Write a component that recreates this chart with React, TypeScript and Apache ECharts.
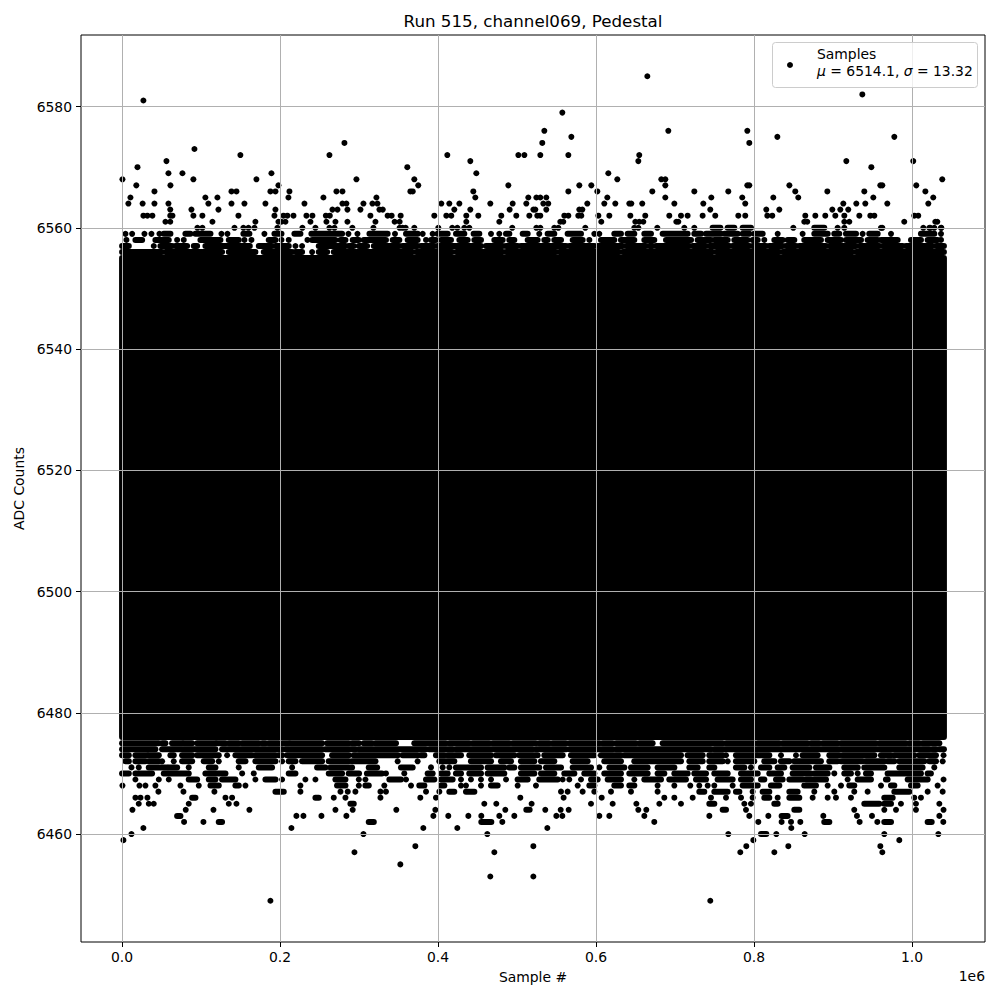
import { useEffect, useRef } from "react";
import * as echarts from "echarts";

// ---- axis / labels ----
const titleText = "Run 515, channel069, Pedestal";
const xTicks = [0, 200000, 400000, 600000, 800000, 1000000];
const yTicks = [6460, 6480, 6500, 6520, 6540, 6560, 6580];
const xRange = [-52000, 1092500];
const yRange = [6442.2, 6591.8];
const legendName = "Samples";
const muValue = "6514.1";
const sigmaValue = "13.32";

// ---- data (sample index in thousands, ADC counts) ----
const K = 1000;
const sampleSpanK = [0, 1040.5];
const coreAdc = [6476, 6555]; // rows that are completely filled

// isolated samples above the band: [sample (k), adc]
const upperOutliers = [
  [27, 6581], [0.5, 6568], [19.5, 6570], [18, 6567], [10.6, 6565], [8, 6564], [26, 6564], [27, 6562], [32, 6562], [38.4, 6562],
  [41, 6566], [41, 6564], [56.2, 6571], [58.7, 6569], [58.7, 6564], [61.2, 6567], [61, 6563], [63.8, 6562], [61, 6562], [54.9, 6561],
  [61, 6561], [76.4, 6569], [91.6, 6573], [90.3, 6568], [87.8, 6563], [90.3, 6562], [101.7, 6562], [95.4, 6560], [101.7, 6560], [105.5, 6565],
  [109.3, 6564], [114.4, 6561], [120.7, 6565], [122, 6563], [149.8, 6572], [138.5, 6566], [144.8, 6566], [138.5, 6564], [154.9, 6564], [147.3, 6562],
  [142.3, 6560], [153.6, 6560], [160, 6560], [167.6, 6560], [170.1, 6568], [168.8, 6561], [181.5, 6564], [189.1, 6569], [187.8, 6566], [194.2, 6566],
  [198, 6567], [194.2, 6563], [192.9, 6562], [198, 6561], [201.8, 6561], [206.8, 6561], [204.3, 6562], [209.3, 6562], [211.9, 6566], [210.6, 6565],
  [196.7, 6560], [217, 6562], [230.9, 6564], [233.4, 6562], [241, 6562], [238.5, 6561], [228.3, 6560], [244.8, 6560], [262.5, 6572], [281.5, 6574],
  [296.7, 6568], [254.9, 6565], [271.4, 6566], [279, 6566], [279, 6564], [284, 6564], [266.3, 6563], [272.7, 6563], [285.3, 6563], [258, 6562],
  [263, 6562], [258.7, 6561], [270.1, 6561], [285.3, 6561], [262.5, 6560], [268.9, 6560], [291.6, 6560], [301.8, 6563], [305.6, 6564], [314.4, 6562],
  [317, 6564], [323.3, 6564], [322, 6565], [320.8, 6561], [318.2, 6560], [325.8, 6563],
  [330, 6563], [336.2, 6562], [341.3, 6562], [345.1, 6561], [351.4, 6561], [352.7, 6562], [351.4, 6560], [355.2, 6560], [359, 6560], [361.1, 6570],
  [370, 6568], [365, 6566], [368, 6566], [375, 6567], [370, 6560], [395.3, 6562], [400.4, 6560], [404.2, 6564], [411.8, 6572], [414.3, 6564],
  [410.5, 6562], [416.8, 6562], [420.6, 6563], [427, 6564], [418, 6560], [424.4, 6560], [440.9, 6571], [448.5, 6569], [444.7, 6566], [447.2, 6565],
  [440.9, 6563], [435.8, 6562], [451, 6562], [435.8, 6561], [433.3, 6560], [439.6, 6560], [466.2, 6564], [489, 6567], [480.1, 6562], [477.6, 6561],
  [490.7, 6563], [494.5, 6564], [499.1, 6562], [494, 6560], [501.7, 6572], [509.3, 6572], [511.8, 6564], [514.3, 6565], [515.6, 6562], [520.7, 6563],
  [523.2, 6563], [525.7, 6562], [524.5, 6565], [529.5, 6565], [537.1, 6565], [529.5, 6572], [532, 6574], [534.6, 6576], [533.3, 6564], [539.6, 6564],
  [537.1, 6563], [529.5, 6562], [524.5, 6560], [529.5, 6560], [557.4, 6579], [568.8, 6575], [565, 6572], [565, 6566], [559.9, 6562], [565, 6562],
  [554.8, 6561], [558.6, 6561], [547.2, 6560], [552.3, 6560], [578.9, 6567], [577.6, 6562], [581.4, 6562], [578.9, 6563], [582.7, 6563], [589, 6564],
  [594.1, 6567], [601.7, 6566], [603, 6562], [606.7, 6561], [615.6, 6569], [614.3, 6565], [610.5, 6564], [624.5, 6564], [616.9, 6562], [627, 6568],
  [642.2, 6564], [644.7, 6564], [643.5, 6562], [653.6, 6571], [654.8, 6572], [665, 6585], [691.6, 6576], [671.3, 6566], [658.6, 6564], [662.4, 6562],
  [649.8, 6561], [654.8, 6561], [659.9, 6561], [682.7, 6568], [687.8, 6568], [687.8, 6567], [687.8, 6565], [699.2, 6564], [692.8, 6562], [701.7, 6561],
  [704.2, 6561], [677.6, 6560], [648.5, 6560], [653.6, 6560], [586.5, 6560],
  [707.6, 6562], [716, 6562], [724.5, 6566], [735.9, 6564], [746, 6565], [744.7, 6563], [735, 6562], [751, 6562], [767.5, 6566], [780.2, 6562],
  [789, 6562], [785.2, 6565], [789, 6564], [791.6, 6576], [794.1, 6574], [794.1, 6567], [791.6, 6567], [815.6, 6563], [816.9, 6562], [823.2, 6562],
  [824.5, 6565], [829.6, 6575], [832.1, 6563], [844.8, 6567], [852.3, 6566], [856.1, 6565], [849.8, 6560], [865, 6562], [863.7, 6561], [867.5, 6561],
  [877.7, 6562], [890.3, 6562], [892.9, 6566], [899.2, 6563], [903, 6562], [909.3, 6563], [913.1, 6564], [916.9, 6571], [914.4, 6562], [914.4, 6561],
  [920.7, 6561], [919.4, 6563], [929.6, 6564], [933.4, 6562], [937.2, 6582], [939.7, 6566], [941, 6564], [948.6, 6570], [947.3, 6562], [952.4, 6562],
  [951.1, 6565], [960, 6567], [962.5, 6567], [962.5, 6560], [968.8, 6564], [977.7, 6575], [990.3, 6561], [1001.7, 6571], [1005.5, 6567], [1003, 6562],
  [1008, 6562], [1017, 6566], [1020.7, 6564], [1027, 6565], [1029.6, 6561], [1032.1, 6561], [1038.4, 6568], [1014.4, 6560], [1022, 6560], [1028.3, 6560],
  [1037.2, 6560],
];

// fringe rows: single samples (k) or runs [from, to] (k) of touching samples
const r6560 = [711.8, 724.5, [747.7, 757.4], [766.7, 775.1], [785.7, 796.2], [876.4, 889], 905.9, 914.4, 960.8, 1023.3, 1036.8];
const r6559 = [4.3, 12.7, 28.3, 37.2, 47.3, [52.8, 61.2], [80.2, 86.5], [92.9, 111.9], 125.8, 133.4, [153.6, 161.2], 180.2, [192.9, 201.8], [218.2, 225.8], [239.7, 278.5], 286.6, 298, [313.2, 336.2], 345.5, [359.5, 374.2], 380.6, 393.2, [399.5, 412.2], [422.8, 433.3], [445.1, 452.3], 467.1, 477.6, [486.1, 490.3], [507.2, 513.5], 528.2, [538.8, 547.2], [564.1, 581], 597.9, 604.2, [623.2, 631.6], [640.1, 648.5], [661.2, 669.6], [684.4, 716], [724.5, 733], [739.3, 758.2], [762.5, 779.3], [785.7, 794.1], [800.4, 811], 830, 861.6, [876.4, 893.3], [901.7, 908], [916.5, 929.2], 937.6, [946, 956.6], 973.5, [1011.4, 1028.3], 1036.8];
const r6558 = [5.5, [16.9, 25.4], [42.2, 59.1], 69.7, 78.1, [99.2, 124.5], [135.1, 147.7], 154.9, 163.8, [185.7, 194.2], 201.8, 211, 234.7, [240.6, 270.1], [276.5, 282.8], [292, 299.7], [306, 334.1], [342.6, 351], [361.6, 374.2], 384.8, [391.1, 397.4], [403.8, 416.4], [427, 437.5], [446, 454.4], [471.3, 481.8], [490.3, 496.6], [513.5, 526.1], [534.6, 538.8], [547.2, 555.7], [570.5, 583.1], 591.6, [606.3, 623.2], [631.6, 648.5], [661.2, 673.8], [688.6, 720.3], [728.7, 745.6], [749.8, 766.7], [775.1, 792], [798.3, 804.7], 813.1, [825.8, 836.3], [842.6, 851.1], [863.7, 884.8], [893.3, 910.2], [916.5, 935.5], [943.9, 956.6], [960.8, 981.9], [998.8, 1011.4], [1019.9, 1032.5], 1036.8];
const r6557 = [[0, 8.5], 40.1, [48.6, 63.3], [67.6, 82.3], [90.8, 95], [105.5, 161.7], [173.1, 189.9], [194.2, 211], 219.5, 227.9, [249, 282.8], [287, 293.3], [299.7, 310.2], [318.7, 351], [355.2, 374.2], [378.4, 395.3], [399.5, 454.4], [460.7, 481.8], [486.1, 500.8], [505, 562], [566.2, 597.9], [602.1, 633.8], [638, 663.3], [667.5, 671.7], [676, 718.2], [722.4, 739.3], [743.5, 768.8], [773, 794.1], [798.3, 815.2], [819.4, 836.3], [840.5, 853.2], [857.4, 891.2], [895.4, 929.2], [933.4, 958.7], [962.9, 988.2], [992.5, 1026.2], [1030.4, 1040.5]];
const r6556 = [[0, 50.6], [54.9, 126.6], [135.1, 168.8], [179.4, 215.3], [219.5, 227.9], 240.6, [249, 259.6], [268, 367.8], [372.2, 418], [423, 481.8], [486.1, 549.5], [553.6, 629.5], [633.8, 747.7], [752, 832.1], [836.3, 925], [929.2, 1040.5]];

const r6475 = [[0, 46.5], [50.7, 54.9], [63.3, 76], [78.1, 88.7], [95, 118.2], [120.3, 130.9], [135.1, 147.7], [152, 173.1], [177.3, 181.5], [185.7, 198.4], [202.6, 211], [213.2, 253.2], [259.6, 287], [291.2, 299.7], [306, 316.5], [320.8, 346.8], [370, 410], [414.3, 439.6], [443.8, 465], [469.2, 490.3], [494.5, 524], [528.2, 540.9], [545.1, 562], [566.2, 604.2], [608.4, 621.1], [625.3, 650.6], [654.9, 671.7], [684.4, 760.4], [764.6, 800.4], [804.7, 832.1], [836.3, 868], [872.2, 882.7], [887, 906], [910.2, 954.5], [958.7, 992.5], [996.7, 1009.3], [1013.5, 1034.7]];
const r6474 = [[0, 42.2], [50.7, 118.2], [126.6, 202.6], [206.8, 253.2], [257.5, 295.4], [299.7, 384.8], [389, 418.5], [422.7, 519.8], [524, 562], [566.2, 621.1], [625.3, 745.6], [749.8, 1022], [1026.2, 1030.4], [1034.7, 1040.5]];
const r6473 = [[0, 8.5], [16.9, 31.7], [33.8, 46.5], [61.2, 65.4], [76, 88.7], [95, 122.4], 133, [143.5, 164.6], [168.8, 194.2], [198.4, 202.6], [208.9, 253.2], [265.9, 287], [293.3, 348.9], [355.2, 374.2], [378.4, 382.7], [397.4, 408], [412.2, 429.1], [439.6, 467.1], [473.4, 496.6], [502.9, 526.1], [534.6, 557.8], [568.3, 597.9], [606.3, 631.6], [635.9, 707.6], [716, 735], [743.5, 760.4], 764.6, [777.2, 802.6], [804.7, 819.4], 834.2, 853.2, [861.6, 880.6], [895.4, 908], [912.3, 952.4], [960.8, 973.5], [977.7, 1003], [1009.3, 1030.4], 1040];
const r6472 = [[4.3, 8.5], [16.9, 29.6], [33.8, 46.5], 50.7, 65.4, [76, 88.7], [103.4, 114], 122.4, [147.7, 156.2], [168.8, 194.2], 202.6, [211, 219.5], [227.9, 253.2], [261.7, 287], [291.2, 320.8], 348.9, 374.2, [401.7, 420.6], [441.7, 467.1], [479.7, 492.4], [505, 521.9], [530.4, 547.2], [570.5, 589.4], [610.5, 631.6], [648.5, 707.6], [718.2, 735], [743.5, 760.4], 766.7, [777.2, 800.4], [813.1, 825.8], [834.2, 844.8], [851.1, 884.8], [895.4, 905.9], [910.2, 937.6], [941.8, 965], [969.2, 977.7], [984, 1015.7], [1022, 1030.4], 1038.9];
const r6471 = [11.9, 21.1, [33.8, 57], [59.1, 69.7], 84.4, [109.8, 118.2], 147.7, [173.1, 189.9], 215.3, [246.9, 257.5], [263.8, 291.2], [312.3, 322.9], [353.1, 367.9], 391.1, 405.9, 414.3, [422.7, 454.4], [462.8, 483.9], [490.3, 496.6], [505, 528.2], [536.7, 555.7], [570.5, 593.7], 604.2, [616.9, 635.9], [644.3, 665.4], [678, 699.2], [718.2, 728.7], [743.5, 749.8], [777.2, 787.8], 796.2, [808.9, 819.4], [830, 838.4], [849, 870.1], [878.5, 895.4], [914.4, 931.3], [939.7, 965], [984, 1013.5], 1028.3];
const r6470 = [[0, 8.5], [16.9, 38], [52.8, 84.4], [105.5, 130.9], 152, 166.7, [211, 219.5], [261.7, 278.5], [287, 300], [310, 329], 334.1, 357.3, [386.9, 393.2], [403.8, 412.2], [422.7, 429.1], [439.6, 454.4], [462.8, 483.9], [505, 521.9], [530.4, 547.2], [559.9, 572.6], [585.2, 597.9], [610.5, 631.6], [642.2, 665.4], [678, 686.5], [699.2, 716], [724.5, 739.3], [749.8, 766.7], [783.6, 804.7], [819.4, 834.2], [849, 872.2], [876.4, 893.3], 901.7, [914.4, 922.8], 931.3, [941.8, 948.1], [969.2, 1011.4], [1019.9, 1024]];
const r6469 = [16.9, 46.5, 59.1, [84.4, 95], [109.8, 118.2], [126.6, 143.5], 168.8, [181.5, 194.2], 202.6, 232.1, 244.8, [270.1, 282.8], 299.7, 308.1, [338.4, 353.1], 359.5, [384.8, 395.3], [403.8, 418.5], 429.1, 441.7, 454.4, 467.1, 486.1, [500.8, 513.5], [528.2, 551.5], 557.8, 566.2, 581, [593.7, 602.1], [614.8, 631.6], 648.5, [661.2, 682.3], [692.8, 713.9], [726.6, 739.3], [754, 773], [783.6, 796.2], [808.9, 813.1], [827.9, 836.3], [844.8, 861.6], [865.9, 891.2], 918.6, [931.3, 948.1], [967.1, 969.2], [994.6, 1019.9], 1040];
const r6468 = [0.5, 22, 29.6, 42.2, 73.9, 97.1, [111.9, 122.4], [143.5, 147.7], 156.2, 225.8, [272.2, 282.8], 299.7, [308.1, 312.3], 332, 365.8, [376.3, 382.7], [403.8, 408], 429.1, 435.4, 454.4, [467.1, 475.5], 500.8, 524, 576.8, [591.6, 597.9], [623.2, 631.6], [642.2, 648.5], 678, 699.2, 719.4, 730.8, 741.4, 749.8, 773, [785.7, 804.7], [821.5, 832.1], [863.7, 878.5], 893.3, 910.2, [920.7, 927], 960.8, [973.5, 977.7], [998.8, 1007.2], 1032.5];
const r6467 = [46, 77.7, 116.9, [194.2, 204.7], 225.8, 276.5, 285.7, 295.4, 327.1, 334.1, 384.8, 401.7, [414.3, 420.6], [435.4, 446], 555.7, 564.1, 583.1, 597.9, 619, 644.3, 678, [730.8, 737.1], [749.8, 766.7], [777.2, 781.5], 798.3, [811, 819.4], [844.8, 855.3], 876.4, 901.7, 927, 943.9, [977.7, 996.7], 1019.9, 1038.9];
const r6466 = [16.9, 23.3, 32.1, [88.7, 92.9], 130.9, 139.3, [244.8, 249], 268, 282.8, 327.1, 377.6, 397.4, 504.2, 559, 607.2, 686.5, 699.2, 722.4, 745.6, 764.6, 783.6, 798.3, [813.1, 819.4], 830, [844.8, 857.4], 874.3, 893.3, 903.8, 922.8, [965, 975.6], 1003, 1011.4];
const r6465 = [21.1, 33.8, 40.1, 84.4, 135.1, 144.8, [289.1, 293.3], 458.6, 473.8, 518.5, 593.7, 621.1, 651.1, 680.2, 707.6, [743.5, 749.8], 787.8, 796.2, [825.8, 830], [939.7, 958.7], [965, 973.5], 986.1, 1005.1, 1034.7];
const r6464 = [13.1, 80.6, 115.7, 161.2, 270.1, 292, 347.2, 396.6, 485.2, [511.8, 516], 535.8, 555.3, 565.4, 653.6, 663.7, [760.4, 764.6], 789.9, [851.1, 857.4], 927, 965, 979.8, 1005.1, 1040];
const r6463 = [[69.7, 73.9], 220.7, 229.6, 252.4, 284, 394.1, 413, 438.4, 454.8, 477.6, 496.6, 549.8, 557.4, 604.2, 616.9, 661.2, 743.5, 794.1, 818.2, [835, 842.6], 887.8, 930.4, 949.4, 1034.7];
const r6462 = [78.5, 103, [122.4, 126.6], [312.3, 318.7], [454.8, 467.5], 481.4, 673.8, 805.5, 835, 846.9, 858.7, [889, 895.4], 933.8, 956.2, [965, 973.5], [1019.9, 1025], 1039.7];
const r6461 = [27, 214.4, 381.4, 424.4, 538.4, 847.3];
const r6460 = [11.9, 305.6, 462.4, 767.5, [808.9, 815.6], 828.3, 864.2, 965, 1033.4];
const r6459 = [1.7, 799.2, 984];
const r6458 = [371.3, 520.7, 790.3, 843.5, 960];
const r6457 = [294.2, 471.3, 782.7, 825.8, 962.5];
const r6455 = [352.3];
const r6453 = [466.2, 520.7];
const r6449 = [187.8, 744.7];

type Cell = number | number[];
const fringeRows: [number, Cell[]][] = [
  [6560, r6560], [6559, r6559], [6558, r6558], [6557, r6557], [6556, r6556],
  [6475, r6475], [6474, r6474], [6473, r6473], [6472, r6472], [6471, r6471], [6470, r6470],
  [6469, r6469], [6468, r6468], [6467, r6467], [6466, r6466], [6465, r6465], [6464, r6464],
  [6463, r6463], [6462, r6462], [6461, r6461], [6460, r6460], [6459, r6459], [6458, r6458],
  [6457, r6457], [6455, r6455], [6453, r6453], [6449, r6449],
];

const FONT = '"DejaVu Sans", "Liberation Sans", sans-serif';
const R = 3; // marker radius in px

export default function App() {
  const ref = useRef<HTMLDivElement>(null);
  useEffect(() => {
    if (!ref.current) return;
    const chart = echarts.init(ref.current, undefined, { renderer: "svg" });

    const dots: number[][] = upperOutliers.map(([x, y]) => [x * K, y]);
    const runs: number[][] = [];
    for (const [adc, cells] of fringeRows) {
      for (const c of cells) {
        if (Array.isArray(c)) runs.push([c[0] * K, c[1] * K, adc]);
        else dots.push([c * K, adc]);
      }
    }
    const core = [[sampleSpanK[0] * K, sampleSpanK[1] * K, coreAdc[0], coreAdc[1]]];

    const option: any = {
      animation: false,
      backgroundColor: "#fff",
      grid: {
        left: 81, top: 35, right: 15, bottom: 58,
        show: true, borderColor: "#000", borderWidth: 1, backgroundColor: "transparent",
      },
      xAxis: {
        type: "value", min: xRange[0], max: xRange[1], z: 5,
        axisLine: { show: false, onZero: false },
        axisTick: { show: true, customValues: xTicks, length: 5, lineStyle: { color: "#000", width: 1 } },
        axisLabel: {
          customValues: xTicks, margin: 8, color: "#000", fontSize: 13.9, fontFamily: FONT,
          formatter: (v: number) => (v / 1e6).toFixed(1),
        },
        splitLine: { show: true, lineStyle: { color: "#b0b0b0", width: 1 } },
        name: "Sample #", nameLocation: "middle", nameGap: 28,
        nameTextStyle: { color: "#000", fontSize: 13.9, fontFamily: FONT },
      },
      yAxis: {
        type: "value", min: yRange[0], max: yRange[1], z: 5,
        axisLine: { show: false, onZero: false },
        axisTick: { show: true, customValues: yTicks, length: 5, lineStyle: { color: "#000", width: 1 } },
        axisLabel: {
          customValues: yTicks, margin: 9, color: "#000", fontSize: 13.9, fontFamily: FONT,
          formatter: (v: number) => String(Math.round(v)),
        },
        splitLine: { show: true, lineStyle: { color: "#b0b0b0", width: 1 } },
        name: "ADC Counts", nameLocation: "middle", nameGap: 53,
        nameTextStyle: { color: "#000", fontSize: 13.9, fontFamily: FONT },
      },
      series: [
        {
          type: "custom", name: "core", silent: true, z: 2,
          data: core,
          encode: { x: [0, 1], y: [2, 3] },
          renderItem: (_p: any, api: any) => {
            const a = api.coord([api.value(0), api.value(3)]);
            const b = api.coord([api.value(1), api.value(2)]);
            return {
              type: "rect",
              shape: { x: a[0] - R, y: a[1] - R, width: b[0] - a[0] + 2 * R, height: b[1] - a[1] + 2 * R, r: R },
              style: { fill: "#000" },
            };
          },
        },
        {
          type: "custom", name: "runs", silent: true, z: 2,
          data: runs,
          encode: { x: [0, 1], y: 2 },
          renderItem: (_p: any, api: any) => {
            const a = api.coord([api.value(0), api.value(2)]);
            const b = api.coord([api.value(1), api.value(2)]);
            return {
              type: "line",
              shape: { x1: a[0], y1: a[1], x2: b[0], y2: b[1] },
              style: { stroke: "#000", lineWidth: 2 * R, lineCap: "round", fill: null, opacity: 1 },
            };
          },
        },
        {
          type: "scatter", name: legendName, z: 2, silent: true,
          data: dots, symbol: "circle", symbolSize: 2 * R,
          itemStyle: { color: "#000", opacity: 1, borderWidth: 0 },
        },
      ],
      graphic: [
        {
          type: "text", x: 533, y: 21, z: 10,
          style: { text: titleText, fill: "#000", font: `16.7px ${FONT}`, textAlign: "center", textVerticalAlign: "middle" },
        },
        {
          type: "text", x: 985, y: 976, z: 10,
          style: { text: "1e6", fill: "#000", font: `13.9px ${FONT}`, textAlign: "right", textVerticalAlign: "middle" },
        },
        {
          type: "group", z: 100,
          children: [
            {
              type: "rect", z: 100,
              shape: { x: 772.5, y: 42.5, width: 205, height: 45, r: 3 },
              style: { fill: "rgba(255,255,255,0.8)", stroke: "#cccccc", lineWidth: 1 },
            },
            { type: "circle", z: 101, shape: { cx: 790, cy: 65, r: R }, style: { fill: "#000" } },
            {
              type: "text", z: 101, x: 817, y: 54,
              style: { text: legendName, fill: "#000", font: `13.9px ${FONT}`, textVerticalAlign: "middle" },
            },
            {
              type: "text", z: 101, x: 817, y: 71,
              style: {
                text: `{i|μ} = ${muValue}, {i|σ} = ${sigmaValue}`,
                fill: "#000", font: `13.9px ${FONT}`, textVerticalAlign: "middle",
                rich: { i: { fontStyle: "italic", fontSize: 13.9, fontFamily: FONT, fill: "#000" } },
              },
            },
          ],
        },
      ],
    };
    chart.setOption(option);
    return () => chart.dispose();
  }, []);
  return (
    <div
      ref={ref}
      style={{ position: "absolute", left: 0, top: 0, width: 1000, height: 1000, background: "#fff" }}
    />
  );
}
